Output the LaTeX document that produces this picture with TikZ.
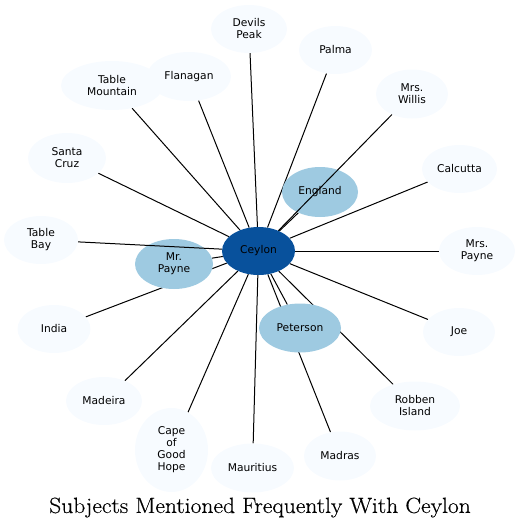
\documentclass[tikz,border=0pt]{standalone}
\usepackage{fontspec}
\newfontfamily\nodefont{DejaVu Sans}
\newfontfamily\titlefont[FakeStretch=1.07,FakeBold=0.4]{Latin Modern Roman}
\usetikzlibrary{shapes.geometric}
\pgfdeclarelayer{background}
\pgfsetlayers{background,main}
\definecolor{cdark}{HTML}{08519C}
\definecolor{cmid}{HTML}{9ECAE1}
\definecolor{clight}{HTML}{F7FBFF}
\tikzset{
  gnode/.style={ellipse, inner sep=0pt, draw=none, align=center,
    font=\nodefont\fontsize{10.7}{12}\selectfont, text=black},
  hub/.style={gnode, fill=cdark},
  midnode/.style={gnode, fill=cmid},
  leaf/.style={gnode, fill=clight},
  edge/.style={draw=black, line width=1pt},
  sz/.style n args={2}{minimum width=#1pt, minimum height=#2pt}
}
\begin{document}
\begin{tikzpicture}[x=1pt,y=-1pt]
\useasboundingbox (0,0) rectangle (521,528);
% leaves
\node[leaf, sz={102}{49}] (tablemountain) at (112,85.5) {Table\\Mountain};
\node[leaf, sz={84}{49}] (flanagan) at (189,76.5) {Flanagan};
\node[leaf, sz={76}{48}] (devils) at (249,29) {Devils\\Peak};
\node[leaf, sz={73}{48}] (palma) at (335.5,50) {Palma};
\node[leaf, sz={72}{49}] (willis) at (412,94) {Mrs.\\Willis};
\node[leaf, sz={75}{48}] (calcutta) at (459.5,169) {Calcutta};
\node[leaf, sz={76}{48}] (mrspayne) at (477,251) {Mrs.\\Payne};
\node[leaf, sz={72}{48}] (joe) at (459,332) {Joe};
\node[leaf, sz={90}{49}] (robben) at (415,406) {Robben\\Island};
\node[leaf, sz={72}{49}] (madras) at (340,456) {Madras};
\node[leaf, sz={83}{49}] (mauritius) at (252.5,468) {Mauritius};
\node[leaf, sz={73}{84}] (cape) at (171.5,450) {Cape\\of\\Good\\Hope};
\node[leaf, sz={76}{48}] (madeira) at (104,401) {Madeira};
\node[leaf, sz={73}{48}] (india) at (54,329) {India};
\node[leaf, sz={74}{48}] (tablebay) at (41,240) {Table\\Bay};
\node[leaf, sz={78}{50}] (santacruz) at (67,158) {Santa\\Cruz};
% mid nodes
\node[midnode, sz={76}{50}] (england) at (320,192) {England};
\node[midnode, sz={78}{50}] (mrpayne) at (174,264) {Mr.\\Payne};
\node[midnode, sz={82}{49}] (peterson) at (300,328) {Peterson};
% hub
\node[hub, sz={73}{48}] (ceylon) at (258.5,251) {Ceylon};
% edges (under nodes)
\begin{pgfonlayer}{background}
\foreach \t in {tablemountain,flanagan,devils,palma,england,calcutta,mrspayne,joe,robben,madras,mauritius,peterson,cape,madeira,india,mrpayne,santacruz}
  \draw[edge] (ceylon) -- (\t);
\end{pgfonlayer}
% edges drawn over nodes
\draw[edge] (ceylon) -- (willis);
\draw[edge] (ceylon) -- (tablebay);
% title
\node[font=\titlefont\fontsize{22}{24}\selectfont, inner sep=0pt] (title) at (260,507.5) {Subjects Mentioned Frequently With Ceylon};
\end{tikzpicture}
\end{document}
